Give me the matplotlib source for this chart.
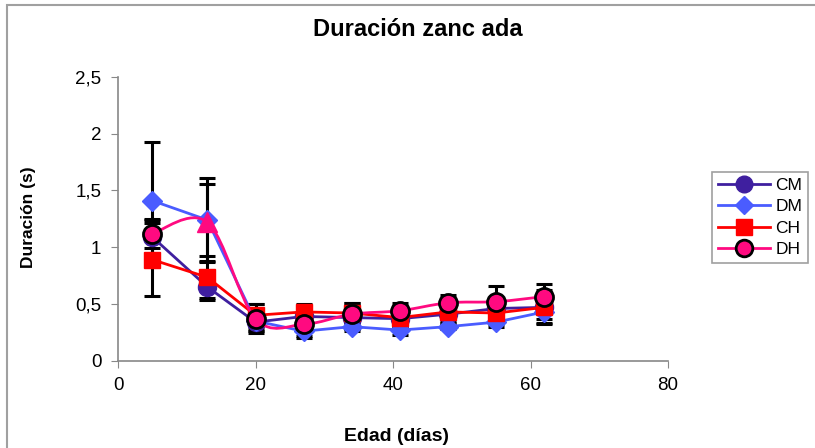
import numpy as np
import matplotlib.pyplot as plt
from matplotlib.path import Path
from matplotlib.patches import PathPatch, Rectangle
from matplotlib.lines import Line2D

plt.rcParams["font.family"] = ["Liberation Sans", "DejaVu Sans"]

# ---- data: age (days) vs duration (s), mean and error per group
edad = [5, 13, 20, 27, 34, 41, 48, 55, 62]

cm = [1.09, 0.65, 0.34, 0.39, 0.38, 0.37, 0.41, 0.46, 0.47]
dm = [1.41, 1.24, 0.35, 0.26, 0.30, 0.27, 0.30, 0.34, 0.43]
ch = [0.89, 0.735, 0.40, 0.43, 0.42, 0.38, 0.43, 0.42, 0.47]
dh = [1.12, 1.22, 0.37, 0.32, 0.41, 0.44, 0.51, 0.52, 0.565]

cm_err = [0.15, 0.115, 0.08, 0.10, 0.10, 0.08, 0.08, 0.08, 0.15]
dm_err = [0.52, 0.37, 0.08, 0.06, 0.04, 0.04, 0.02, 0.04, 0.10]
ch_err = [0.32, 0.185, 0.10, 0.07, 0.09, 0.10, 0.08, 0.10, 0.10]
dh_err = [0.13, 0.34, 0.13, 0.10, 0.10, 0.07, 0.07, 0.14, 0.115]

y_ticks = [0, 0.5, 1, 1.5, 2, 2.5]
y_ticklabels = ["0", "0,5", "1", "1,5", "2", "2,5"]
x_ticks = [0, 20, 40, 60, 80]

c_cm = "#3f1f9f"
c_dm = "#4a5cff"
c_ch = "#ff0000"
c_dh = "#ff0a80"


def smooth_path(x, y):
    # cubic bezier through every point (catmull-rom style tangents)
    x = np.asarray(x, float)
    y = np.asarray(y, float)
    pts = np.column_stack([x, y])
    verts = [pts[0]]
    codes = [Path.MOVETO]
    n = len(pts)
    for i in range(n - 1):
        p0 = pts[i - 1] if i > 0 else pts[i]
        p1 = pts[i]
        p2 = pts[i + 1]
        p3 = pts[i + 2] if i + 2 < n else pts[i + 1]
        verts += [p1 + (p2 - p0) / 6, p2 - (p3 - p1) / 6, p2]
        codes += [Path.CURVE4] * 3
    return Path(verts, codes)


fig = plt.figure(figsize=(8.15, 4.48), dpi=100)
fig.patches.append(Rectangle((7 / 815, -0.1), 1.2, 1 - 5 / 448 + 0.1,
                             transform=fig.transFigure, fill=False,
                             edgecolor="#a0a0a0", lw=1.5))
ax = fig.add_axes([118 / 815, 87.3 / 448, 550 / 815, 283.7 / 448])

eb = dict(fmt="none", ecolor="black", elinewidth=2.2, capsize=6, capthick=2.2, zorder=2)
ax.errorbar(edad, cm, yerr=cm_err, **eb)
ax.errorbar(edad, dm, yerr=dm_err, **eb)
ax.errorbar(edad, ch, yerr=ch_err, **eb)
ax.errorbar(edad, dh, yerr=dh_err, **eb)

ax.plot(edad, cm, color=c_cm, lw=2, marker="o", ms=13, mec=c_cm, zorder=3)
ax.plot(edad, dm, color=c_dm, lw=2, marker="D", ms=10, mec=c_dm, zorder=3)
ax.plot(edad, ch, color=c_ch, lw=2, marker="s", ms=12, mec=c_ch, zorder=4)

ax.add_patch(PathPatch(smooth_path(edad, dh), fill=False, edgecolor=c_dh,
                       lw=2, zorder=5))
circ = [i for i in range(len(edad)) if i != 1]
ax.plot([edad[i] for i in circ], [dh[i] for i in circ], ls="none", marker="o",
        ms=13, mfc=c_dh, mec="black", mew=2, zorder=6)
ax.plot(edad[1], dh[1], ls="none", marker="^", ms=15, mfc=c_dh, mec=c_dh, zorder=6)

ax.set_xlim(0, 80)
ax.set_ylim(0, 2.5)
ax.set_xticks(x_ticks)
ax.set_yticks(y_ticks)
ax.set_yticklabels(y_ticklabels)
ax.tick_params(labelsize=13.5, length=5, color="#888888", pad=7)
for s in ["top", "right"]:
    ax.spines[s].set_visible(False)
for s in ["left", "bottom"]:
    ax.spines[s].set_color("#888888")
    ax.spines[s].set_linewidth(1.2)

fig.text(418 / 815, 1 - 29 / 448, "Duración zanc ada", fontsize=17,
         fontweight="bold", ha="center", va="center")
ax.set_xlabel("Edad (días)", fontsize=14, fontweight="bold", va="center")
ax.xaxis.set_label_coords((397 - 118) / 550, (360.7 - 436) / 283.7)
ax.set_ylabel("Duración (s)", fontsize=12.5, fontweight="bold", va="center")
ax.yaxis.set_label_coords((29 - 118) / 550, 0.505)

handles = [
    Line2D([], [], color=c_cm, lw=2, marker="o", ms=12, mec=c_cm),
    Line2D([], [], color=c_dm, lw=2, marker="D", ms=9, mec=c_dm),
    Line2D([], [], color=c_ch, lw=2, marker="s", ms=11, mec=c_ch),
    Line2D([], [], color=c_dh, lw=2, marker="o", ms=12, mfc=c_dh, mec="black", mew=2),
]
leg = fig.legend(handles, ["CM", "DM", "CH", "DH"], loc="upper left",
                 bbox_to_anchor=(712 / 815, 1 - 172 / 448), fontsize=12.5,
                 frameon=True, fancybox=False, borderaxespad=0, handlelength=3.0,
                 labelspacing=0.35, borderpad=0.35, handletextpad=0.3)
leg.get_frame().set_edgecolor("#888888")
leg.get_frame().set_linewidth(1.2)

fig.savefig("out.png", dpi=100)
